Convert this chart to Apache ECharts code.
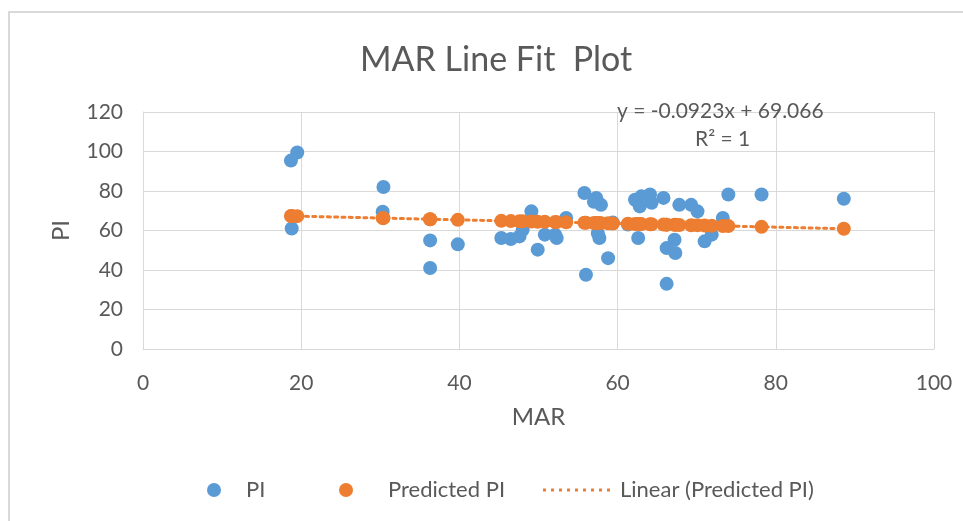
<!DOCTYPE html>
<html>
<head>
<meta charset="utf-8">
<script src="https://cdn.jsdelivr.net/npm/echarts@6/dist/echarts.min.js"></script>
<style>
  html, body { margin: 0; padding: 0; background: #fff; }
  #chart { width: 963px; height: 521px; }
</style>
</head>
<body>
<div id="chart"></div>
<script>
// Observed MAR values and their PI readings
const mar = [18.7, 19.5, 18.8, 30.4, 30.3, 36.3, 36.3, 39.8, 45.3, 46.5, 47.6, 48.0,
  49.1, 49.9, 50.8, 52.1, 52.3, 53.5, 55.8, 56.0, 57.3, 57.9, 57.0, 57.7, 57.5, 58.8,
  59.4, 61.3, 62.2, 63.0, 64.1, 62.8, 62.6, 64.3, 65.8, 67.2, 66.2, 67.3, 66.2, 67.8,
  69.3, 70.1, 71.0, 71.9, 73.3, 74.0, 78.2, 88.6];
const pi = [95.4, 99.5, 61.0, 82.0, 69.5, 55.0, 41.0, 53.0, 56.2, 55.7, 57.0, 60.4,
  69.7, 50.3, 57.9, 57.9, 56.2, 66.3, 79.0, 37.6, 76.5, 73.0, 74.5, 56.2, 58.5, 46.0,
  64.0, 63.0, 75.6, 77.3, 78.2, 72.2, 56.2, 74.0, 76.5, 55.3, 51.1, 48.6, 33.0, 73.0,
  73.0, 69.7, 54.5, 57.9, 66.3, 78.2, 78.2, 76.1];
// Fitted PI at each MAR
const predictedPi = [67.34, 67.27, 67.33, 66.26, 66.27, 65.72, 65.72, 65.39, 64.88, 64.77,
  64.67, 64.63, 64.53, 64.46, 64.38, 64.26, 64.24, 64.13, 63.92, 63.90, 63.78, 63.72,
  63.80, 63.74, 63.76, 63.64, 63.58, 63.41, 63.32, 63.25, 63.15, 63.27, 63.29, 63.13,
  62.99, 62.86, 62.96, 62.85, 62.96, 62.81, 62.67, 62.60, 62.51, 62.43, 62.30, 62.24,
  61.85, 60.89];
// Trendline end points
const trendX = [18.7, 88.6];
const trendY = [67.34, 60.89];
const xTicks = [0, 20, 40, 60, 80, 100];
const yTicks = [0, 20, 40, 60, 80, 100, 120];

const blue = '#5B9BD5';
const orange = '#ED7D31';
const grey = '#595959';
const gridGrey = '#D9D9D9';
const font = 'Lato';

// Row of nine square dots used as the trendline's legend key
let dotsPath = 'path://';
for (let i = 0; i < 9; i++) {
  const x = i * 8;
  dotsPath += 'M' + x + ',0h3v3h-3Z';
}

const chart = echarts.init(document.getElementById('chart'));

const legendBase = {
  top: 474,
  itemHeight: 14,
  itemWidth: 14,
  textStyle: { fontFamily: font, fontSize: 22, color: grey },
  selectedMode: false
};

chart.setOption({
  backgroundColor: '#fff',
  animation: false,
  title: {
    text: 'MAR Line Fit  Plot',
    left: 355,
    top: 38,
    textStyle: { fontFamily: font, fontSize: 34, fontWeight: 'normal', color: grey }
  },
  grid: { left: 143, right: 29, top: 112, bottom: 172 },
  xAxis: {
    type: 'value',
    min: xTicks[0],
    max: xTicks[xTicks.length - 1],
    interval: 20,
    name: 'MAR',
    nameLocation: 'middle',
    nameGap: 56,
    nameTextStyle: { fontFamily: font, fontSize: 24, color: grey },
    axisLine: { show: true, lineStyle: { color: gridGrey, width: 1 } },
    axisTick: { show: false },
    axisLabel: { fontFamily: font, fontSize: 21, color: grey, margin: 24 },
    splitLine: { show: true, lineStyle: { color: gridGrey, width: 1 } }
  },
  yAxis: {
    type: 'value',
    min: yTicks[0],
    max: yTicks[yTicks.length - 1],
    interval: 20,
    name: 'PI',
    nameLocation: 'middle',
    nameGap: 70,
    nameTextStyle: { fontFamily: font, fontSize: 24, color: grey },
    axisLine: { show: true, lineStyle: { color: gridGrey, width: 1 } },
    axisTick: { show: false },
    axisLabel: { fontFamily: font, fontSize: 21, color: grey, margin: 20 },
    splitLine: { show: true, lineStyle: { color: gridGrey, width: 1 } }
  },
  legend: [
    Object.assign({}, legendBase, {
      left: 202, data: [{ name: 'PI', icon: 'circle' }],
      textStyle: Object.assign({}, legendBase.textStyle, { padding: [0, 0, 0, 20] })
    }),
    Object.assign({}, legendBase, {
      left: 334, data: [{ name: 'Predicted PI', icon: 'circle' }],
      textStyle: Object.assign({}, legendBase.textStyle, { padding: [0, 0, 0, 30] })
    }),
    Object.assign({}, legendBase, {
      left: 538, itemWidth: 67, itemHeight: 3,
      data: [{ name: 'Linear (Predicted PI)', icon: dotsPath, itemStyle: { color: orange } }],
      textStyle: Object.assign({}, legendBase.textStyle, { padding: [0, 0, 0, 5] })
    })
  ],
  graphic: [
    {
      type: 'rect', silent: true, z: -1,
      shape: { x: 9, y: 12, width: 1000, height: 600 },
      style: { fill: 'none', stroke: gridGrey, lineWidth: 2 }
    },
    {
      type: 'text', left: 617, top: 101, z: 10,
      style: { text: 'y = -0.0923x + 69.066', fontFamily: font, fontSize: 21, fill: grey }
    },
    {
      type: 'text', left: 695, top: 129, z: 10,
      style: { text: 'R² = 1', fontFamily: font, fontSize: 21, fill: grey }
    }
  ],
  series: [
    {
      name: 'PI',
      type: 'scatter',
      symbol: 'circle',
      symbolSize: 14,
      itemStyle: { color: blue, opacity: 1 },
      data: mar.map((m, i) => [m, pi[i]]),
      z: 2
    },
    {
      name: 'Predicted PI',
      type: 'scatter',
      symbol: 'circle',
      symbolSize: 14,
      itemStyle: { color: orange, opacity: 1 },
      data: mar.map((m, i) => [m, predictedPi[i]]),
      z: 4
    },
    {
      name: 'Linear (Predicted PI)',
      type: 'line',
      showSymbol: false,
      symbol: 'none',
      lineStyle: { color: orange, width: 3, type: [3, 4.3], cap: 'round' },
      itemStyle: { color: orange },
      data: trendX.map((x, i) => [x, trendY[i]]),
      z: 3
    }
  ]
});
</script>
</body>
</html>
